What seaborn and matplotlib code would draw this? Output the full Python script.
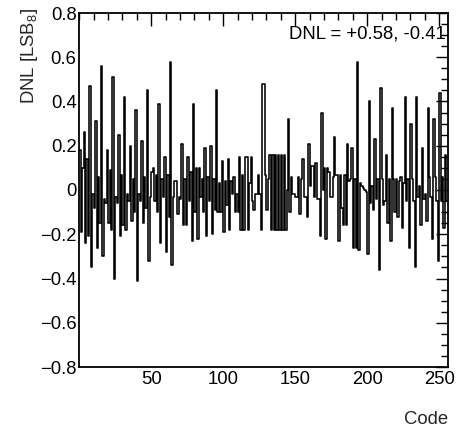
import numpy as np
import pandas as pd
import matplotlib
matplotlib.use("Agg")
import matplotlib.pyplot as plt
from matplotlib.ticker import MultipleLocator, FixedLocator, FuncFormatter
import seaborn as sns

# ---------------- data ----------------
codes = list(range(256))
dnl = [
    0.18, -0.19, 0.10, 0.26, -0.24, 0.14, -0.21, 0.47, -0.35, -0.02,
    -0.08, 0.31, -0.26, 0.06, -0.15, 0.56, -0.30, -0.04, -0.06, 0.18,
    -0.15, 0.09, -0.18, 0.51, -0.40, -0.03, -0.06, 0.25, -0.21, 0.07,
    -0.16, 0.42, -0.18, -0.02, -0.05, 0.20, -0.14, 0.05, -0.10, 0.36,
    -0.41, -0.02, -0.05, 0.22, -0.15, 0.06, -0.08, 0.45, -0.32, -0.03,
    0.08, 0.10, -0.05, 0.07, -0.10, 0.39, -0.24, 0.05, -0.03, 0.15,
    -0.28, 0.07, -0.12, 0.58, -0.34, -0.03, 0.04, 0.04, -0.11, -0.03,
    -0.04, 0.21, -0.16, 0.05, -0.16, 0.15, -0.05, 0.08, -0.23, 0.39,
    -0.10, 0.10, -0.22, 0.10, -0.03, 0.05, -0.10, 0.19, -0.21, 0.06,
    -0.05, 0.20, -0.20, 0.05, -0.09, 0.45, -0.10, 0.03, -0.10, 0.13,
    -0.19, 0.04, -0.07, 0.14, -0.18, 0.04, -0.02, 0.06, -0.10, -0.02,
    -0.10, 0.15, -0.18, 0.07, -0.18, 0.15, 0.15, -0.18, 0.03, 0.15,
    -0.05, -0.09, -0.02, -0.02, 0.07, -0.02, -0.18, 0.48, 0.48, 0.07,
    -0.09, 0.05, 0.16, -0.18, 0.16, -0.18, 0.16, -0.18, 0.16, -0.18,
    0.16, -0.18, 0.16, -0.18, 0.00, 0.32, -0.10, 0.06, -0.02, -0.02,
    -0.03, -0.03, 0.06, -0.11, 0.05, 0.14, -0.03, -0.03, -0.12, 0.21,
    0.02, 0.11, 0.11, -0.03, 0.12, -0.04, -0.04, -0.21, 0.35, 0.00,
    0.10, -0.22, 0.10, 0.08, -0.03, -0.03, 0.06, 0.24, 0.07, 0.07,
    -0.23, 0.07, -0.08, -0.16, 0.07, -0.16, 0.21, 0.04, 0.05, 0.19,
    -0.26, 0.05, -0.26, 0.58, -0.27, 0.03, 0.02, 0.01, 0.00, -0.01,
    -0.29, 0.40, -0.06, 0.02, -0.09, 0.23, -0.04, 0.05, -0.36, 0.46,
    0.05, -0.07, -0.05, 0.16, -0.15, 0.05, -0.23, 0.37, 0.05, -0.10,
    0.05, -0.12, 0.04, 0.06, -0.17, 0.03, 0.42, -0.05, 0.05, -0.26,
    0.30, 0.05, -0.05, -0.35, 0.42, -0.03, 0.02, -0.16, 0.19, -0.04,
    -0.02, -0.14, 0.37, 0.06, -0.03, -0.22, 0.32, 0.06, -0.05, -0.32,
    0.44, -0.05, 0.06, -0.17, 0.16, -0.05,
]
x_ticks = [50, 100, 150, 200, 250]
y_ticks = [-0.8, -0.6, -0.4, -0.2, 0.0, 0.2, 0.4, 0.6, 0.8]
stat_text = "DNL = +0.58, -0.41"

df = pd.DataFrame({"code": [c + 0.5 for c in codes], "dnl": dnl})

# ---------------- style ----------------
sns.set_theme(style="white")
plt.rcParams["font.family"] = ["Liberation Sans", "DejaVu Sans"]
plt.rcParams["mathtext.fontset"] = "custom"
plt.rcParams["mathtext.rm"] = "Liberation Sans"
plt.rcParams["mathtext.it"] = "Liberation Sans:italic"
plt.rcParams["mathtext.default"] = "regular"

FS = 13.3

fig = plt.figure(figsize=(4.59, 4.34), dpi=100)
fig.patch.set_facecolor("white")
ax = fig.add_axes([79.3 / 459, 1 - 367 / 434, 368.4 / 459, 354 / 434])
ax.set_facecolor("white")

sns.histplot(data=df, x="code", weights="dnl", binwidth=1, binrange=(0, 256),
             element="step", fill=False, color="black", linewidth=1.15,
             ax=ax)

ax.set_xlim(0, 256)
ax.set_ylim(-0.8, 0.8)

ax.xaxis.set_major_locator(FixedLocator(x_ticks))
ax.xaxis.set_minor_locator(MultipleLocator(10))
ax.yaxis.set_major_locator(FixedLocator(y_ticks))
ax.yaxis.set_minor_locator(MultipleLocator(0.05))


def yfmt(v, pos):
    if abs(v) < 1e-9:
        return "0"
    return f"{v:.1f}".replace("-", "\u2212")


ax.yaxis.set_major_formatter(FuncFormatter(yfmt))
ax.tick_params(axis="both", which="major", direction="in", length=9, width=1,
               top=True, right=True, labelsize=FS, colors="black", pad=2)
ax.tick_params(axis="both", which="minor", direction="in", length=5, width=1,
               top=True, right=True, colors="black")
ax.tick_params(axis="x", which="major", pad=3)

for s in ax.spines.values():
    s.set_visible(True)
    s.set_color("black")
    s.set_linewidth(1.3)

ax.set_xlabel("Code", fontsize=FS, loc="right")
ax.xaxis.set_label_coords(1.0, -0.125)
ax.set_ylabel("DNL [LSB$_{8}$]", fontsize=FS, loc="top")
ax.yaxis.set_label_coords(-0.107, 1.015)

ax.text(0.995, 0.94, stat_text, transform=ax.transAxes, ha="right",
        va="center", fontsize=FS, color="black")

fig.savefig("out.png", dpi=100, facecolor="white")
